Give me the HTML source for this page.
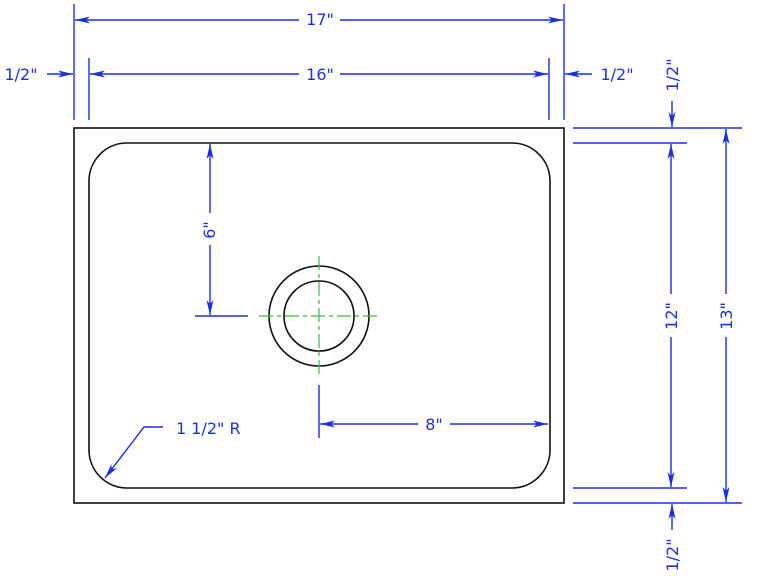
<!DOCTYPE html>
<html><head><meta charset="utf-8"><style>
html,body{margin:0;padding:0;background:#fff;}
svg{display:block;}
text{font-family:"DejaVu Sans","Liberation Sans",sans-serif;font-size:16px;fill:#1a2fe0;}
</style></head><body>
<svg width="759" height="578" viewBox="0 0 759 578" xmlns="http://www.w3.org/2000/svg">
<defs>
<marker id="a" viewBox="0 0 15 7" refX="15" refY="3.5" markerWidth="15" markerHeight="7" markerUnits="userSpaceOnUse" orient="auto">
<path d="M0,0 L15,3.5 L0,7 L4,3.5 z" fill="#1a2fe0"/></marker>
</defs>
<g stroke="#1a2fe0" stroke-width="1.4" fill="none">
<line x1="74" y1="4" x2="74" y2="120"/>
<line x1="564" y1="4" x2="564" y2="120"/>
<line x1="89" y1="58" x2="89" y2="120"/>
<line x1="549" y1="58" x2="549" y2="120"/>
<line x1="299" y1="20" x2="75" y2="20" marker-end="url(#a)"/>
<line x1="340" y1="20" x2="563" y2="20" marker-end="url(#a)"/>
<line x1="299" y1="74" x2="90" y2="74" marker-end="url(#a)"/>
<line x1="340" y1="74" x2="548" y2="74" marker-end="url(#a)"/>
<line x1="47" y1="74" x2="73" y2="74" marker-end="url(#a)"/>
<line x1="592" y1="74" x2="565" y2="74" marker-end="url(#a)"/>
<line x1="573" y1="128" x2="742" y2="128"/>
<line x1="573" y1="143" x2="687" y2="143"/>
<line x1="573" y1="488" x2="687" y2="488"/>
<line x1="573" y1="503" x2="742" y2="503"/>
<line x1="671" y1="294" x2="671" y2="144" marker-end="url(#a)"/>
<line x1="671" y1="337" x2="671" y2="487" marker-end="url(#a)"/>
<line x1="726" y1="294" x2="726" y2="129" marker-end="url(#a)"/>
<line x1="726" y1="337" x2="726" y2="502" marker-end="url(#a)"/>
<line x1="672" y1="101" x2="672" y2="127" marker-end="url(#a)"/>
<line x1="672" y1="530" x2="672" y2="504" marker-end="url(#a)"/>
<line x1="210" y1="213" x2="210" y2="144" marker-end="url(#a)"/>
<line x1="210" y1="245" x2="210" y2="315" marker-end="url(#a)"/>
<line x1="195" y1="316" x2="248" y2="316"/>
<line x1="319" y1="385" x2="319" y2="438"/>
<line x1="418" y1="424" x2="320" y2="424" marker-end="url(#a)"/>
<line x1="450" y1="424" x2="548" y2="424" marker-end="url(#a)"/>
<polyline points="163,427 144,427 105,478" marker-end="url(#a)"/>
</g>
<rect x="74" y="128" width="490" height="375" fill="none" stroke="#111" stroke-width="1.6"/>
<rect x="89" y="143" width="461" height="345" rx="38" ry="38" fill="none" stroke="#111" stroke-width="1.6"/>
<circle cx="319" cy="316" r="50" fill="none" stroke="#111" stroke-width="1.6"/>
<circle cx="319" cy="316" r="35" fill="none" stroke="#111" stroke-width="1.6"/>
<g stroke="#2ec42e" stroke-width="1.2" stroke-dasharray="14,4,4,4">
<line x1="259" y1="316" x2="380" y2="316"/>
<line x1="319" y1="256" x2="319" y2="375"/>
</g>
<text x="320" y="25" text-anchor="middle">17"</text>
<text x="320" y="80" text-anchor="middle">16"</text>
<text x="21" y="80" text-anchor="middle">1/2"</text>
<text x="617" y="80" text-anchor="middle">1/2"</text>
<text x="434" y="430" text-anchor="middle">8"</text>
<text x="176" y="434">1 1/2" R</text>
<text transform="translate(215,230) rotate(-90)" text-anchor="middle">6"</text>
<text transform="translate(677,316) rotate(-90)" text-anchor="middle">12"</text>
<text transform="translate(732,316) rotate(-90)" text-anchor="middle">13"</text>
<text transform="translate(678,75) rotate(-90)" text-anchor="middle">1/2"</text>
<text transform="translate(678,555) rotate(-90)" text-anchor="middle">1/2"</text>
</svg>
</body></html>
